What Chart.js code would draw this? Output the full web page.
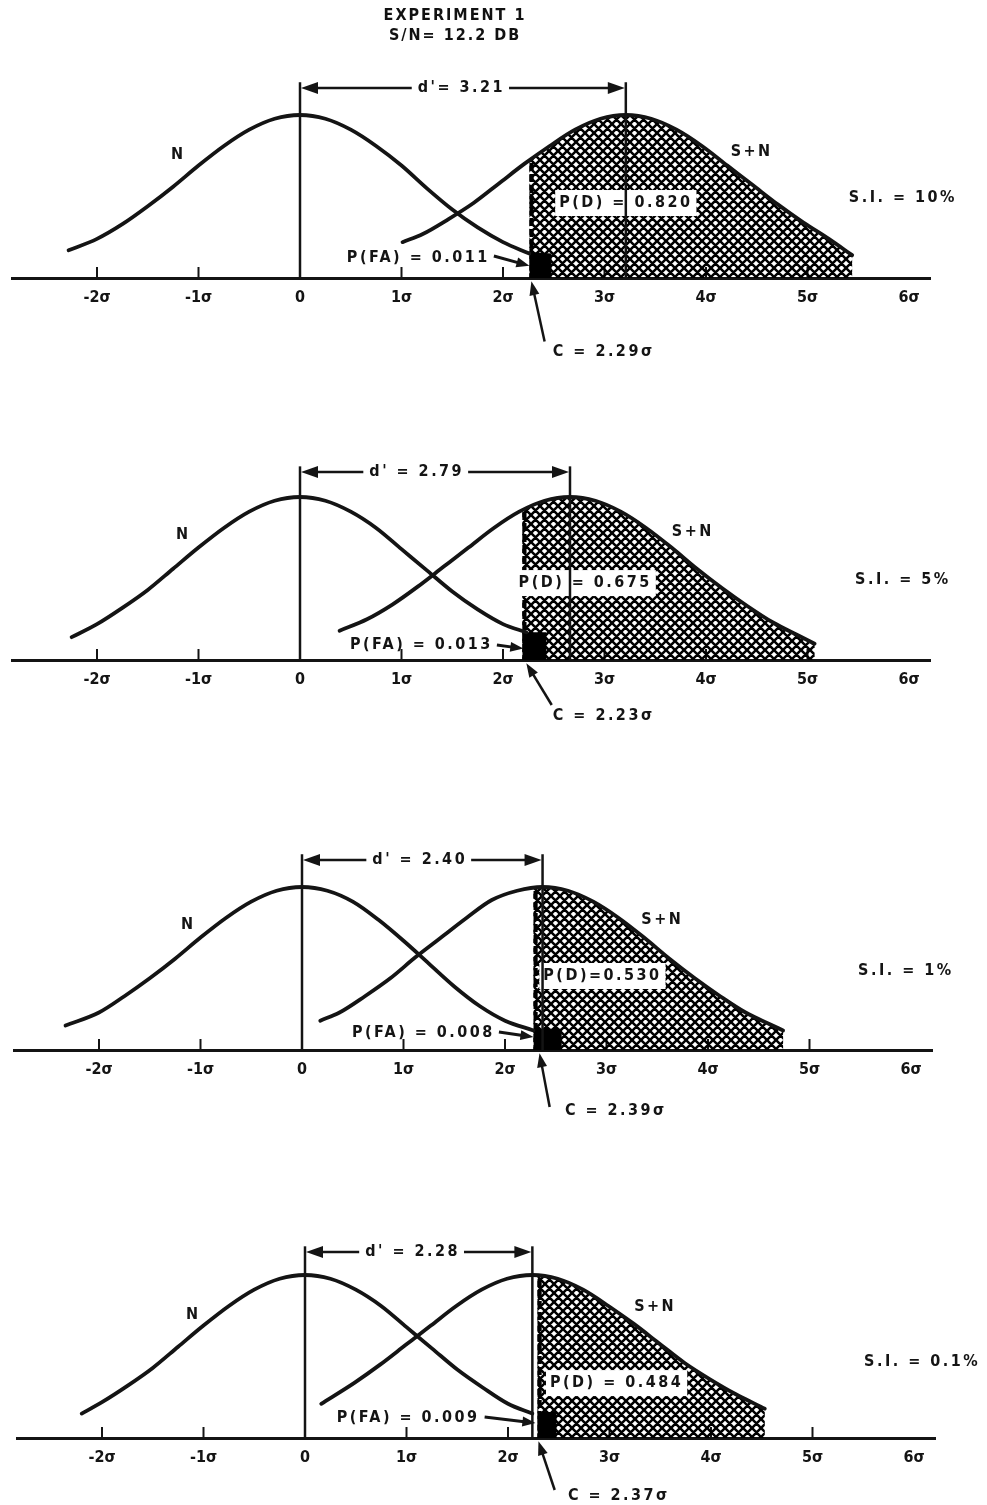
<!DOCTYPE html>
<html><head><meta charset="utf-8">
<script src="https://cdn.jsdelivr.net/npm/chart.js@4.4.0/dist/chart.umd.min.js"></script>
<style>
html,body{margin:0;padding:0;background:#fff;width:987px;height:1505px;overflow:hidden;position:relative}
canvas{position:absolute}
#title{position:absolute;left:350px;top:5px;width:210px;text-align:center;font:bold 16px "DejaVu Sans Condensed","DejaVu Sans",sans-serif;letter-spacing:2px;line-height:20px;color:#111;z-index:5}
</style></head><body>
<div id="title">EXPERIMENT 1<br>S/N= 12.2 DB</div>
<canvas id="c0" width="987" height="380"></canvas>
<canvas id="c1" width="987" height="380"></canvas>
<canvas id="c2" width="987" height="380"></canvas>
<canvas id="c3" width="987" height="380"></canvas>
<script>
// ---------------- data ----------------
const tickValues = [-2, -1, 0, 1, 2, 3, 4, 5, 6];
const tickLabels = ['-2σ', '-1σ', '0', '1σ', '2σ', '3σ', '4σ', '5σ', '6σ'];
const tickMarkValues = [-2, -1, 1, 2, 3, 4, 5];

const siLabels = ['S.I. = 10%', 'S.I. = 5%', 'S.I. = 1%', 'S.I. = 0.1%'];
const dPrimeLabels = ["d'= 3.21", "d' = 2.79", "d' = 2.40", "d' = 2.28"];
const pdLabels = ['P(D) = 0.820', 'P(D) = 0.675', 'P(D)=0.530', 'P(D) = 0.484'];
const pfaLabels = ['P(FA) = 0.011', 'P(FA) = 0.013', 'P(FA) = 0.008', 'P(FA) = 0.009'];
const cLabels = ['C = 2.29σ', 'C = 2.23σ', 'C = 2.39σ', 'C = 2.37σ'];

// S+N mean and criterion as drawn (σ units)
const peakPos = [3.21, 2.66, 2.37, 2.24];
const cutPos = [2.26, 2.19, 2.28, 2.29];

// panel 1 (S.I. 10%)
const noiseX1 = [-2.28, -2, -1.75, -1.5, -1.25, -1, -0.75, -0.5, -0.25, 0, 0.25, 0.5, 0.75, 1, 1.25, 1.5, 1.75, 2, 2.26];
const noiseY1 = [0.17, 0.24, 0.33, 0.44, 0.56, 0.69, 0.81, 0.91, 0.977, 1, 0.977, 0.91, 0.81, 0.69, 0.55, 0.42, 0.31, 0.22, 0.15];
const signalX1 = [1.01, 1.21, 1.46, 1.71, 1.96, 2.21, 2.46, 2.71, 2.96, 3.21, 3.46, 3.71, 3.96, 4.21, 4.46, 4.71, 4.96, 5.21, 5.44];
const signalY1 = [0.22, 0.27, 0.36, 0.46, 0.58, 0.70, 0.81, 0.91, 0.977, 1, 0.977, 0.91, 0.81, 0.69, 0.57, 0.45, 0.34, 0.24, 0.14];
const faX1 = [2.26, 2.48];
const faY1 = [0.16, 0.15];

// panel 2 (S.I. 5%)
const noiseX2 = [-2.25, -2, -1.75, -1.5, -1.25, -1, -0.75, -0.5, -0.25, 0, 0.25, 0.5, 0.75, 1, 1.25, 1.5, 1.75, 2, 2.23];
const noiseY2 = [0.14, 0.22, 0.32, 0.43, 0.56, 0.69, 0.81, 0.91, 0.977, 1, 0.977, 0.91, 0.81, 0.68, 0.55, 0.42, 0.31, 0.22, 0.17];
const signalX2 = [0.39, 0.66, 0.91, 1.16, 1.41, 1.66, 1.91, 2.16, 2.41, 2.66, 2.91, 3.16, 3.41, 3.66, 3.91, 4.16, 4.41, 4.66, 4.91, 5.07];
const signalY2 = [0.18, 0.25, 0.34, 0.45, 0.57, 0.69, 0.81, 0.91, 0.977, 1, 0.977, 0.91, 0.81, 0.69, 0.56, 0.44, 0.33, 0.23, 0.15, 0.10];
const faX2 = [2.19, 2.43];
const faY2 = [0.17, 0.17];

// panel 3 (S.I. 1%)
const noiseX3 = [-2.33, -2, -1.75, -1.5, -1.25, -1, -0.75, -0.5, -0.25, 0, 0.25, 0.5, 0.75, 1, 1.25, 1.5, 1.75, 2, 2.28];
const noiseY3 = [0.15, 0.23, 0.33, 0.44, 0.56, 0.69, 0.81, 0.91, 0.977, 1, 0.977, 0.91, 0.80, 0.67, 0.53, 0.39, 0.27, 0.18, 0.12];
const signalX3 = [0.18, 0.37, 0.62, 0.87, 1.12, 1.37, 1.62, 1.87, 2.12, 2.37, 2.62, 2.87, 3.12, 3.37, 3.62, 3.87, 4.12, 4.37, 4.62, 4.74];
const signalY3 = [0.18, 0.23, 0.33, 0.44, 0.57, 0.69, 0.81, 0.92, 0.977, 1, 0.977, 0.91, 0.81, 0.69, 0.56, 0.44, 0.33, 0.23, 0.155, 0.12];
const faX3 = [2.28, 2.56];
const faY3 = [0.13, 0.13];

// panel 4 (S.I. 0.1%)
const noiseX4 = [-2.20, -2, -1.75, -1.5, -1.25, -1, -0.75, -0.5, -0.25, 0, 0.25, 0.5, 0.75, 1, 1.25, 1.5, 1.75, 2, 2.24];
const noiseY4 = [0.15, 0.22, 0.32, 0.43, 0.56, 0.69, 0.81, 0.91, 0.977, 1, 0.977, 0.91, 0.81, 0.68, 0.55, 0.42, 0.31, 0.21, 0.15];
const signalX4 = [0.16, 0.49, 0.74, 0.99, 1.24, 1.49, 1.74, 1.99, 2.24, 2.49, 2.74, 2.99, 3.24, 3.49, 3.74, 3.99, 4.24, 4.53];
const signalY4 = [0.21, 0.34, 0.45, 0.57, 0.69, 0.81, 0.91, 0.977, 1, 0.977, 0.91, 0.81, 0.70, 0.58, 0.46, 0.36, 0.27, 0.18];
const faX4 = [2.29, 2.48];
const faY4 = [0.16, 0.16];

// ---------------- drawing setup ----------------
const INK = '#141414';
const FAM = '"DejaVu Sans Condensed", "DejaVu Sans", sans-serif';
const FONT = 'bold 16px ' + FAM;
const H = 380, AXIS_IN_CANVAS = 280, PEAK_PX = 163, PX_PER_SIGMA = 101.5, ZERO_IN_CANVAS = 300;
const PAD_L = 12, PAD_R = 57;
const X_MIN = (PAD_L - ZERO_IN_CANVAS) / PX_PER_SIGMA;
const X_MAX = (987 - PAD_R - ZERO_IN_CANVAS) / PX_PER_SIGMA;
const Y_MAX = AXIS_IN_CANVAS / PEAK_PX;

const panels = [
  {nx: noiseX1, ny: noiseY1, sx: signalX1, sy: signalY1, fx: faX1, fy: faY1},
  {nx: noiseX2, ny: noiseY2, sx: signalX2, sy: signalY2, fx: faX2, fy: faY2},
  {nx: noiseX3, ny: noiseY3, sx: signalX3, sy: signalY3, fx: faX3, fy: faY3},
  {nx: noiseX4, ny: noiseY4, sx: signalX4, sy: signalY4, fx: faX4, fy: faY4}
];

// annotation placement (σ, height-units) per panel
const layout = [
  {axisY: 278, zero: 300, dY: 1.166, dText: 1.59, nLab: [-1.20, 0.755], snLab: [4.45, 0.773], siLab: [5.94, 0.49], pd: [3.21, 0.46],
   pfaText: [1.87, 0.123], pfaArrow: [1.91, 0.135, 2.26, 0.075], cArrow: [2.41, -0.39, 2.28, -0.02], cText: [2.49, -0.454]},
  {axisY: 660, zero: 300, dY: 1.153, dText: 1.15, nLab: [-1.15, 0.767], snLab: [3.87, 0.785], siLab: [5.94, 0.49], pd: [2.81, 0.472],
   pfaText: [1.90, 0.092], pfaArrow: [1.94, 0.092, 2.20, 0.07], cArrow: [2.48, -0.276, 2.23, -0.02], cText: [2.49, -0.344]},
  {axisY: 1050, zero: 302, dY: 1.166, dText: 1.16, nLab: [-1.12, 0.767], snLab: [3.55, 0.80], siLab: [5.95, 0.485], pd: [2.96, 0.454],
   pfaText: [1.90, 0.104], pfaArrow: [1.94, 0.11, 2.28, 0.08], cArrow: [2.44, -0.35, 2.34, -0.02], cText: [2.59, -0.374]},
  {axisY: 1438, zero: 305, dY: 1.141, dText: 1.06, nLab: [-1.10, 0.755], snLab: [3.45, 0.804], siLab: [6.08, 0.466], pd: [3.07, 0.337],
   pfaText: [1.72, 0.123], pfaArrow: [1.77, 0.129, 2.27, 0.092], cArrow: [2.46, -0.319, 2.30, -0.02], cText: [2.59, -0.356]}
];

function makeTile() {
  const t = document.createElement('canvas');
  t.width = 9; t.height = 9;
  const g = t.getContext('2d');
  g.strokeStyle = '#000'; g.lineWidth = 2.5;
  g.beginPath();
  for (const k of [-9, 0, 9]) { g.moveTo(k, 0); g.lineTo(k + 9, 9); g.moveTo(k + 9, 0); g.lineTo(k, 9); }
  g.stroke();
  return t;
}
const tile = makeTile();

function arrow(ctx, x1, y1, x2, y2, lw, hl, hw) {
  const a = Math.atan2(y2 - y1, x2 - x1), c = Math.cos(a), s = Math.sin(a);
  ctx.lineWidth = lw;
  ctx.beginPath(); ctx.moveTo(x1, y1); ctx.lineTo(x2 - c * hl * 0.7, y2 - s * hl * 0.7); ctx.stroke();
  ctx.beginPath(); ctx.moveTo(x2, y2);
  ctx.lineTo(x2 - c * hl + s * hw, y2 - s * hl - c * hw);
  ctx.lineTo(x2 - c * hl - s * hw, y2 - s * hl + c * hw);
  ctx.closePath(); ctx.fill();
}
function text(ctx, s, x, y, align) {
  ctx.font = FONT; ctx.letterSpacing = '2.5px';
  ctx.textAlign = align || 'center'; ctx.textBaseline = 'middle';
  ctx.fillText(s, x, y);
}

function annotPlugin(i) {
  return {
    id: 'annot' + i,
    beforeDatasetsDraw(chart) {
      const {ctx, chartArea, scales: {x, y}} = chart;
      const base = y.getPixelForValue(0);
      ctx.save();
      ctx.strokeStyle = INK; ctx.lineWidth = 2;
      tickMarkValues.forEach(v => {
        const px = x.getPixelForValue(v);
        ctx.beginPath(); ctx.moveTo(px, base); ctx.lineTo(px, base - 11); ctx.stroke();
      });
      // hatched P(D) area under S+N right of the criterion
      const meta = chart.getDatasetMeta(1);
      const line = meta.dataset, pts = meta.data;
      line.updateControlPoints(chartArea, 'x');
      const cPx = x.getPixelForValue(cutPos[i]);
      ctx.beginPath(); ctx.rect(cPx, chartArea.top, chartArea.right - cPx, base - chartArea.top); ctx.clip();
      ctx.beginPath();
      line.path(ctx);
      ctx.lineTo(pts[pts.length - 1].x, base);
      ctx.lineTo(pts[0].x, base);
      ctx.closePath();
      ctx.fillStyle = ctx.createPattern(tile, 'repeat');
      ctx.fill();
      ctx.clip();
      ctx.setLineDash([8, 3]); ctx.lineWidth = 4.5; ctx.strokeStyle = '#000';
      ctx.beginPath(); ctx.moveTo(cPx + 2, chartArea.top); ctx.lineTo(cPx + 2, base); ctx.stroke();
      ctx.restore();
    },
    afterDatasetsDraw(chart) {
      const {ctx, scales: {x, y}} = chart;
      const L = layout[i];
      const X = v => x.getPixelForValue(v), Y = v => y.getPixelForValue(v);
      const base = Y(0);
      ctx.save();
      ctx.fillStyle = INK; ctx.strokeStyle = INK; ctx.lineCap = 'butt';
      // P(D) label box
      ctx.font = FONT; ctx.letterSpacing = '2.5px';
      const pw = ctx.measureText(pdLabels[i]).width + 8;
      ctx.fillStyle = '#fff';
      ctx.fillRect(X(L.pd[0]) - pw / 2, Y(L.pd[1]) - 13, pw, 26);
      ctx.fillStyle = INK;
      text(ctx, pdLabels[i], X(L.pd[0]), Y(L.pd[1]));
      // vertical lines at 0 and at S+N mean
      ctx.lineWidth = 2.5;
      [0, peakPos[i]].forEach(v => {
        ctx.beginPath(); ctx.moveTo(X(v), Y(L.dY + 0.035)); ctx.lineTo(X(v), base); ctx.stroke();
      });
      // d' dimension arrow
      ctx.font = FONT; ctx.letterSpacing = '2.5px';
      const tw = ctx.measureText(dPrimeLabels[i]).width;
      const tc = X(L.dText), dy = Y(L.dY);
      text(ctx, dPrimeLabels[i], tc, dy);
      arrow(ctx, tc - tw / 2 - 6, dy, X(0) + 1, dy, 2.5, 17, 6);
      arrow(ctx, tc + tw / 2 + 4, dy, X(peakPos[i]) - 1, dy, 2.5, 17, 6);
      // curve labels
      text(ctx, 'N', X(L.nLab[0]), Y(L.nLab[1]));
      text(ctx, 'S+N', X(L.snLab[0]), Y(L.snLab[1]));
      text(ctx, siLabels[i], X(L.siLab[0]), Y(L.siLab[1]));
      // P(FA)
      text(ctx, pfaLabels[i], X(L.pfaText[0]), Y(L.pfaText[1]), 'right');
      arrow(ctx, X(L.pfaArrow[0]), Y(L.pfaArrow[1]), X(L.pfaArrow[2]), Y(L.pfaArrow[3]), 3, 13, 5);
      // criterion
      arrow(ctx, X(L.cArrow[0]), Y(L.cArrow[1]), X(L.cArrow[2]), Y(L.cArrow[3]), 2.5, 14, 5);
      text(ctx, cLabels[i], X(L.cText[0]), Y(L.cText[1]), 'left');
      ctx.restore();
    }
  };
}

const toPts = (xs, ys) => xs.map((v, k) => ({x: v, y: ys[k]}));

panels.forEach((P, i) => {
  const cv = document.getElementById('c' + i);
  cv.style.top = (layout[i].axisY - AXIS_IN_CANVAS) + 'px';
  cv.style.left = (layout[i].zero - ZERO_IN_CANVAS) + 'px';
  const curve = {borderColor: INK, borderWidth: 3.8, pointRadius: 0, cubicInterpolationMode: 'monotone', fill: false, borderCapStyle: 'round', borderJoinStyle: 'round'};
  new Chart(cv, {
    type: 'line',
    data: {datasets: [
      Object.assign({label: 'N', data: toPts(P.nx, P.ny)}, curve),
      Object.assign({label: 'S+N', data: toPts(P.sx, P.sy)}, curve),
      {label: 'P(FA)', data: toPts(P.fx, P.fy), borderWidth: 0, pointRadius: 0, backgroundColor: '#000', fill: 'origin', tension: 0}
    ]},
    options: {
      responsive: false, animation: false, devicePixelRatio: 1,
      layout: {padding: {left: PAD_L, right: PAD_R, top: 0, bottom: 0}},
      plugins: {legend: {display: false}, tooltip: {enabled: false}, title: {display: false}},
      scales: {
        x: {
          type: 'linear', min: X_MIN, max: X_MAX,
          afterBuildTicks: s => { s.ticks = tickValues.map(v => ({value: v})); },
          afterFit: s => { s.height = H - AXIS_IN_CANVAS; },
          grid: {display: false, drawTicks: false},
          border: {display: true, color: INK, width: 3},
          ticks: {autoSkip: false, maxRotation: 0, padding: 10, color: INK,
                  font: {family: FAM, size: 16, weight: 'bold'},
                  callback: v => { const k = tickValues.indexOf(v); return k >= 0 ? tickLabels[k] : ''; }}
        },
        y: {display: false, min: 0, max: Y_MAX}
      }
    },
    plugins: [annotPlugin(i)]
  });
});
</script>
</body></html>
